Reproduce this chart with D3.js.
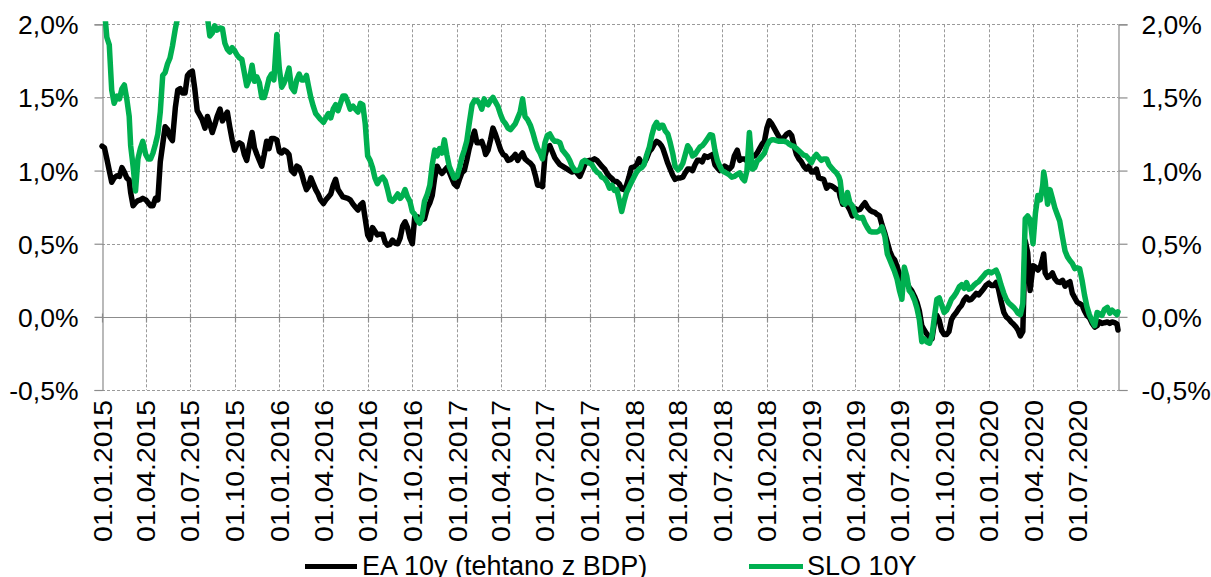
<!DOCTYPE html>
<html><head><meta charset="utf-8">
<script src="https://cdn.jsdelivr.net/npm/d3@7"></script>
<style>
body{margin:0;background:#fff}
svg{display:block}
text{font-family:Arial,"Liberation Sans",sans-serif;fill:#000}
</style>
</head><body>
<svg id="chart" width="1211" height="577"></svg>
<script>
// ---------- DATA ----------
const seriesNames = ["EA 10y (tehtano z BDP)", "SLO 10Y"];
const yTicks = [-0.5, 0, 0.5, 1.0, 1.5, 2.0];
const xTickDates = ["2015-01-01","2015-04-01","2015-07-01","2015-10-01","2016-01-01","2016-04-01","2016-07-01","2016-10-01",
  "2017-01-01","2017-04-01","2017-07-01","2017-10-01","2018-01-01","2018-04-01","2018-07-01","2018-10-01",
  "2019-01-01","2019-04-01","2019-07-01","2019-10-01","2020-01-01","2020-04-01","2020-07-01"];

const dates = [
 "2015-01-01","2015-01-06","2015-01-11","2015-01-16","2015-01-21","2015-01-26",
 "2015-02-01","2015-02-06","2015-02-11","2015-02-16","2015-02-21","2015-02-26",
 "2015-03-01","2015-03-06","2015-03-11","2015-03-16","2015-03-21","2015-03-26",
 "2015-04-01","2015-04-06","2015-04-11","2015-04-16","2015-04-21","2015-04-26",
 "2015-05-01","2015-05-06","2015-05-11","2015-05-16","2015-05-21","2015-05-26",
 "2015-06-01","2015-06-06","2015-06-11","2015-06-16","2015-06-21","2015-06-26",
 "2015-07-01","2015-07-06","2015-07-11","2015-07-16","2015-07-21","2015-07-26",
 "2015-08-01","2015-08-06","2015-08-11","2015-08-16","2015-08-21","2015-08-26",
 "2015-09-01","2015-09-06","2015-09-11","2015-09-16","2015-09-21","2015-09-26",
 "2015-10-01","2015-10-06","2015-10-11","2015-10-16","2015-10-21","2015-10-26",
 "2015-11-01","2015-11-06","2015-11-11","2015-11-16","2015-11-21","2015-11-26",
 "2015-12-01","2015-12-06","2015-12-11","2015-12-16","2015-12-21","2015-12-27",
 "2016-01-01","2016-01-06","2016-01-11","2016-01-16","2016-01-21","2016-01-26",
 "2016-02-01","2016-02-06","2016-02-11","2016-02-16","2016-02-21","2016-02-26",
 "2016-03-01","2016-03-06","2016-03-11","2016-03-16","2016-03-21","2016-03-26",
 "2016-04-01","2016-04-06","2016-04-11","2016-04-16","2016-04-21","2016-04-26",
 "2016-05-01","2016-05-06","2016-05-11","2016-05-16","2016-05-21","2016-05-26",
 "2016-06-01","2016-06-06","2016-06-11","2016-06-16","2016-06-21","2016-06-26",
 "2016-07-01","2016-07-06","2016-07-11","2016-07-16","2016-07-21","2016-07-26",
 "2016-08-01","2016-08-06","2016-08-11","2016-08-16","2016-08-21","2016-08-26",
 "2016-09-01","2016-09-06","2016-09-11","2016-09-16","2016-09-21","2016-09-26",
 "2016-10-01","2016-10-06","2016-10-11","2016-10-16","2016-10-21","2016-10-26",
 "2016-11-01","2016-11-06","2016-11-11","2016-11-16","2016-11-21","2016-11-26",
 "2016-12-01","2016-12-06","2016-12-11","2016-12-16","2016-12-21","2016-12-26",
 "2017-01-01","2017-01-06","2017-01-11","2017-01-16","2017-01-21","2017-01-26",
 "2017-02-01","2017-02-06","2017-02-11","2017-02-16","2017-02-21","2017-02-26",
 "2017-03-01","2017-03-06","2017-03-11","2017-03-16","2017-03-21","2017-03-26",
 "2017-04-01","2017-04-06","2017-04-11","2017-04-16","2017-04-21","2017-04-26",
 "2017-05-01","2017-05-06","2017-05-11","2017-05-16","2017-05-21","2017-05-26",
 "2017-06-01","2017-06-06","2017-06-11","2017-06-16","2017-06-21","2017-06-26",
 "2017-07-01","2017-07-06","2017-07-11","2017-07-16","2017-07-21","2017-07-26",
 "2017-08-01","2017-08-06","2017-08-11","2017-08-16","2017-08-21","2017-08-26",
 "2017-09-01","2017-09-06","2017-09-11","2017-09-16","2017-09-21","2017-09-26",
 "2017-10-01","2017-10-06","2017-10-11","2017-10-16","2017-10-21","2017-10-26",
 "2017-11-01","2017-11-06","2017-11-11","2017-11-16","2017-11-21","2017-11-26",
 "2017-12-01","2017-12-06","2017-12-11","2017-12-16","2017-12-21","2017-12-26",
 "2018-01-01","2018-01-06","2018-01-11","2018-01-16","2018-01-21","2018-01-26",
 "2018-02-01","2018-02-06","2018-02-11","2018-02-16","2018-02-21","2018-02-26",
 "2018-03-01","2018-03-06","2018-03-11","2018-03-16","2018-03-21","2018-03-26",
 "2018-04-01","2018-04-06","2018-04-11","2018-04-16","2018-04-21","2018-04-26",
 "2018-05-01","2018-05-06","2018-05-11","2018-05-16","2018-05-21","2018-05-26",
 "2018-06-01","2018-06-06","2018-06-11","2018-06-16","2018-06-21","2018-06-26",
 "2018-07-01","2018-07-06","2018-07-11","2018-07-16","2018-07-21","2018-07-26",
 "2018-08-01","2018-08-06","2018-08-11","2018-08-16","2018-08-21","2018-08-26",
 "2018-09-01","2018-09-06","2018-09-11","2018-09-16","2018-09-21","2018-09-26",
 "2018-10-01","2018-10-06","2018-10-11","2018-10-16","2018-10-21","2018-10-26",
 "2018-11-01","2018-11-06","2018-11-11","2018-11-16","2018-11-21","2018-11-26",
 "2018-12-01","2018-12-06","2018-12-11","2018-12-16","2018-12-21","2018-12-26",
 "2019-01-01","2019-01-06","2019-01-11","2019-01-16","2019-01-21","2019-01-26",
 "2019-02-01","2019-02-06","2019-02-11","2019-02-16","2019-02-21","2019-02-26",
 "2019-03-01","2019-03-06","2019-03-11","2019-03-16","2019-03-21","2019-03-26",
 "2019-04-01","2019-04-06","2019-04-11","2019-04-16","2019-04-21","2019-04-26",
 "2019-05-01","2019-05-06","2019-05-11","2019-05-16","2019-05-21","2019-05-26",
 "2019-06-01","2019-06-06","2019-06-11","2019-06-16","2019-06-21","2019-06-26",
 "2019-07-01","2019-07-06","2019-07-11","2019-07-16","2019-07-21","2019-07-26",
 "2019-08-01","2019-08-06","2019-08-11","2019-08-16","2019-08-21","2019-08-26",
 "2019-09-01","2019-09-06","2019-09-11","2019-09-16","2019-09-21","2019-09-26",
 "2019-10-01","2019-10-06","2019-10-11","2019-10-16","2019-10-21","2019-10-26",
 "2019-11-01","2019-11-06","2019-11-11","2019-11-16","2019-11-21","2019-11-26",
 "2019-12-01","2019-12-06","2019-12-11","2019-12-16","2019-12-21","2019-12-26",
 "2020-01-01","2020-01-06","2020-01-11","2020-01-16","2020-01-21","2020-01-26",
 "2020-02-01","2020-02-06","2020-02-11","2020-02-16","2020-02-21","2020-02-26",
 "2020-03-01","2020-03-06","2020-03-11","2020-03-16","2020-03-21","2020-03-26",
 "2020-04-01","2020-04-06","2020-04-11","2020-04-16","2020-04-21","2020-04-23","2020-04-26",
 "2020-05-01","2020-05-06","2020-05-11","2020-05-16","2020-05-21","2020-05-26",
 "2020-06-01","2020-06-06","2020-06-11","2020-06-16","2020-06-21","2020-06-26",
 "2020-07-01","2020-07-06","2020-07-11","2020-07-16","2020-07-21","2020-07-26",
 "2020-08-01","2020-08-06","2020-08-11","2020-08-16","2020-08-21","2020-08-26",
 "2020-09-01","2020-09-06","2020-09-11","2020-09-16","2020-09-21","2020-09-23"
];

const ea10y = [
 1.167,1.156,1.08,1.00,0.92,0.95,
 0.965,0.96,1.02,0.99,0.95,0.935,
 0.85,0.76,0.78,0.795,0.80,0.81,
 0.80,0.78,0.76,0.76,0.81,0.80,
 1.06,1.18,1.30,1.28,1.23,1.205,
 1.43,1.55,1.56,1.53,1.53,1.65,
 1.67,1.68,1.56,1.41,1.38,1.35,
 1.29,1.37,1.32,1.26,1.31,1.37,
 1.42,1.34,1.37,1.40,1.30,1.21,
 1.14,1.18,1.19,1.18,1.11,1.07,
 1.18,1.26,1.155,1.11,1.07,1.03,
 1.11,1.20,1.15,1.22,1.22,1.21,
 1.13,1.12,1.14,1.13,1.11,1.00,
 0.98,1.03,1.02,0.98,0.92,0.87,
 0.89,0.95,0.91,0.87,0.84,0.80,
 0.775,0.80,0.82,0.84,0.90,0.94,
 0.87,0.845,0.82,0.815,0.81,0.80,
 0.77,0.75,0.73,0.765,0.78,0.67,
 0.56,0.53,0.61,0.585,0.56,0.565,
 0.565,0.51,0.49,0.495,0.525,0.505,
 0.50,0.54,0.62,0.65,0.61,0.54,
 0.50,0.685,0.685,0.675,0.665,0.67,
 0.745,0.78,0.83,0.95,1.03,1.00,
 0.98,1.00,1.02,0.99,0.95,0.91,
 0.89,0.94,0.985,1.00,1.07,1.15,
 1.22,1.27,1.19,1.19,1.20,1.15,
 1.11,1.14,1.21,1.29,1.25,1.20,
 1.14,1.11,1.10,1.07,1.075,1.09,
 1.11,1.07,1.10,1.12,1.08,1.065,
 1.05,1.03,0.97,0.90,0.90,0.89,
 1.10,1.16,1.17,1.13,1.09,1.065,
 1.04,1.03,1.02,1.01,1.00,0.99,
 1.00,0.98,0.96,1.00,1.04,1.065,
 1.07,1.07,1.08,1.07,1.05,1.03,
 1.01,0.98,0.96,0.945,0.925,0.925,
 0.91,0.875,0.87,0.90,0.955,1.02,
 1.025,1.04,1.08,1.05,1.05,1.08,
 1.13,1.15,1.18,1.20,1.19,1.17,
 1.15,1.10,1.05,1.01,0.97,0.94,
 0.95,0.95,0.955,0.985,1.01,1.01,
 1.00,1.04,1.07,1.07,1.06,1.10,
 1.09,1.10,1.11,1.04,1.02,1.00,
 1.01,1.03,1.02,1.01,1.03,1.10,
 1.14,1.07,1.08,1.08,1.065,1.09,
 1.10,1.10,1.12,1.15,1.18,1.20,
 1.29,1.34,1.32,1.29,1.26,1.23,
 1.21,1.23,1.25,1.26,1.24,1.17,
 1.11,1.08,1.06,1.03,1.01,1.03,
 0.99,0.99,1.01,0.95,0.945,0.94,
 0.88,0.90,0.895,0.885,0.87,0.87,
 0.82,0.77,0.78,0.76,0.73,0.69,
 0.74,0.73,0.735,0.76,0.78,0.75,
 0.73,0.72,0.715,0.70,0.69,0.63,
 0.57,0.51,0.45,0.41,0.39,0.345,
 0.29,0.24,0.26,0.24,0.20,0.18,
 0.14,0.10,0.04,-0.06,-0.09,-0.115,
 -0.14,-0.15,-0.04,0.01,-0.025,-0.095,
 -0.12,-0.12,-0.10,-0.02,0.01,0.03,
 0.06,0.08,0.115,0.135,0.115,0.12,
 0.14,0.16,0.15,0.17,0.19,0.215,
 0.23,0.215,0.215,0.235,0.19,0.11,
 0.03,0.00,-0.015,-0.035,-0.05,-0.07,
 -0.09,-0.13,-0.10,0.52,0.44,0.18,
 0.35,0.34,0.32,0.34,0.40,0.43,0.30,
 0.27,0.28,0.30,0.26,0.24,0.235,
 0.25,0.21,0.23,0.24,0.16,0.13,
 0.10,0.09,0.08,0.04,0.01,-0.005,
 -0.045,-0.07,-0.06,-0.035,-0.045,-0.04,
 -0.035,-0.045,-0.035,-0.04,-0.05,-0.09
];

const slo10y = [
 2.25,2.10,1.91,1.86,1.55,1.46,
 1.51,1.49,1.56,1.585,1.49,1.37,
 1.17,1.03,0.86,1.08,1.15,1.20,
 1.11,1.08,1.08,1.12,1.18,1.25,
 1.40,1.65,1.67,1.73,1.77,1.85,
 1.97,2.05,2.20,2.30,2.40,2.45,
 2.50,2.50,2.45,2.40,2.35,2.30,
 2.15,2.05,1.92,1.94,1.99,1.96,
 1.975,1.97,1.87,1.83,1.81,1.84,
 1.82,1.79,1.77,1.76,1.67,1.58,
 1.63,1.72,1.61,1.64,1.60,1.50,
 1.50,1.56,1.63,1.66,1.62,1.93,
 1.70,1.57,1.60,1.64,1.70,1.57,
 1.54,1.62,1.66,1.62,1.62,1.65,
 1.58,1.50,1.44,1.39,1.37,1.35,
 1.33,1.36,1.39,1.36,1.42,1.45,
 1.41,1.46,1.51,1.51,1.47,1.42,
 1.44,1.42,1.40,1.46,1.45,1.32,
 1.10,1.07,1.02,0.95,0.91,0.94,
 0.955,0.93,0.87,0.80,0.79,0.81,
 0.84,0.81,0.83,0.87,0.82,0.79,
 0.72,0.70,0.66,0.64,0.68,0.79,
 0.84,0.90,1.04,1.14,1.10,1.15,
 1.12,1.21,1.11,1.03,0.99,0.95,
 0.96,1.02,1.09,1.14,1.20,1.32,
 1.45,1.48,1.48,1.46,1.42,1.49,
 1.46,1.45,1.48,1.50,1.47,1.44,
 1.38,1.34,1.32,1.29,1.28,1.30,
 1.32,1.36,1.40,1.49,1.37,1.35,
 1.31,1.26,1.20,1.15,1.12,1.08,
 1.19,1.24,1.25,1.22,1.20,1.20,
 1.19,1.14,1.12,1.10,1.07,1.03,
 1.00,1.00,1.01,1.06,1.07,1.06,
 1.05,1.04,1.01,0.99,0.98,0.955,
 0.945,0.92,0.88,0.90,0.865,0.87,
 0.80,0.72,0.79,0.85,0.885,0.92,
 0.96,0.99,1.01,1.02,1.04,1.10,
 1.16,1.24,1.30,1.33,1.29,1.31,
 1.31,1.27,1.25,1.19,1.12,1.03,
 1.005,1.02,1.05,1.11,1.17,1.145,
 1.10,1.11,1.135,1.16,1.17,1.19,
 1.22,1.245,1.24,1.14,1.07,1.03,
 1.00,0.99,0.98,0.97,0.955,0.96,
 0.975,0.985,0.95,0.93,1.00,1.26,
 1.01,1.02,1.065,1.08,1.10,1.12,
 1.17,1.20,1.21,1.21,1.205,1.20,
 1.20,1.20,1.195,1.18,1.17,1.165,
 1.15,1.135,1.12,1.105,1.10,1.08,
 1.055,1.09,1.11,1.09,1.07,1.08,
 1.08,1.04,1.02,1.00,0.985,0.96,
 0.93,0.785,0.77,0.85,0.78,0.76,
 0.70,0.68,0.675,0.68,0.64,0.61,
 0.585,0.58,0.58,0.58,0.59,0.615,
 0.55,0.43,0.39,0.35,0.31,0.26,
 0.18,0.12,0.34,0.28,0.18,0.16,
 0.115,0.06,-0.02,-0.17,-0.15,-0.17,
 -0.18,-0.13,0.00,0.12,0.13,0.08,
 0.03,0.045,0.08,0.12,0.14,0.165,
 0.205,0.22,0.195,0.235,0.19,0.195,
 0.215,0.23,0.24,0.26,0.28,0.30,
 0.31,0.30,0.31,0.32,0.28,0.22,
 0.16,0.12,0.095,0.08,0.065,0.045,
 0.025,0.015,0.09,0.67,0.69,0.665,
 0.50,0.71,0.83,0.80,0.90,0.99,0.93,
 0.77,0.87,0.81,0.745,0.70,0.655,
 0.54,0.45,0.41,0.385,0.365,0.33,
 0.335,0.33,0.25,0.15,0.07,0.015,
 -0.03,-0.06,0.03,0.02,0.01,0.05,
 0.065,0.025,0.045,0.03,0.015,0.035
];

const seriesColors = ["#000000", "#00B050"];

// ---------- CHART ----------
const plot = {left: 102, right: 1118, top: 24.3, bottom: 390};
const parse = d3.timeParse("%Y-%m-%d");
const svg = d3.select("#chart");

const x = d3.scaleTime()
  .domain([parse(dates[0]), parse(dates[dates.length - 1])])
  .range([plot.left, plot.right]);
const y = d3.scaleLinear().domain([-0.5, 2.0]).range([plot.bottom, plot.top]);

const loc = d3.formatLocale({decimal: ",", thousands: ".", grouping: [3], currency: ["", "€"], minus: "-"});
const fmtY = v => loc.format(".1f")(v) + "%";
const fmtX = d3.timeFormat("%d.%m.%Y");

const gridColor = "#9a9a9a";
const axisColor = "#8c8c8c";

// horizontal gridlines
svg.append("g").selectAll("line")
  .data(yTicks.filter(v => v !== 0))
  .join("line")
  .attr("x1", plot.left).attr("x2", plot.right)
  .attr("y1", d => Math.round(y(d)) + 0.5).attr("y2", d => Math.round(y(d)) + 0.5)
  .attr("stroke", gridColor).attr("stroke-width", 1).attr("stroke-dasharray", "3,2");

// vertical gridlines
svg.append("g").selectAll("line")
  .data(xTickDates.slice(1))
  .join("line")
  .attr("x1", d => Math.round(x(parse(d))) + 0.5).attr("x2", d => Math.round(x(parse(d))) + 0.5)
  .attr("y1", plot.top).attr("y2", plot.bottom)
  .attr("stroke", gridColor).attr("stroke-width", 1).attr("stroke-dasharray", "3,2");

// zero axis line
const y0 = Math.round(y(0)) + 0.5;
svg.append("line").attr("x1", plot.left).attr("x2", plot.right)
  .attr("y1", y0).attr("y2", y0).attr("stroke", axisColor).attr("stroke-width", 1.2);
// x tick marks on the zero line
svg.append("g").selectAll("line")
  .data(xTickDates)
  .join("line")
  .attr("x1", d => Math.round(x(parse(d))) + 0.5).attr("x2", d => Math.round(x(parse(d))) + 0.5)
  .attr("y1", y0 - 4).attr("y2", y0 + 5)
  .attr("stroke", axisColor).attr("stroke-width", 1.2);

// left & right y axes
const leftAxis = d3.axisLeft(y).tickValues(yTicks).tickFormat(fmtY).tickSize(8).tickPadding(16);
const rightAxis = d3.axisRight(y).tickValues(yTicks).tickFormat(fmtY).tickSize(9).tickPadding(14);
const gL = svg.append("g").attr("transform", `translate(${plot.left + 0.5},0)`).call(leftAxis);
const gR = svg.append("g").attr("transform", `translate(${plot.right + 0.5},0)`).call(rightAxis);
[gL, gR].forEach(g => {
  g.select(".domain").attr("stroke", axisColor).attr("stroke-width", 1.2);
  g.selectAll(".tick line").attr("stroke", axisColor).attr("stroke-width", 1.2);
  g.selectAll(".tick text").attr("font-size", 26.5).attr("font-family", "Arial, 'Liberation Sans', sans-serif")
    .attr("fill", "#000").attr("dy", "0.36em");
});

// x tick labels (rotated)
svg.append("g").selectAll("text")
  .data(xTickDates)
  .join("text")
  .attr("transform", d => `translate(${x(parse(d)) + 9.5},${plot.bottom + 10}) rotate(-90) scale(1.07,1)`)
  .attr("text-anchor", "end")
  .attr("font-size", 26.5)
  .text(d => fmtX(parse(d)));

// clip
svg.append("defs").append("clipPath").attr("id", "clip")
  .append("rect").attr("x", plot.left - 3).attr("y", plot.top - 3)
  .attr("width", plot.right - plot.left + 6).attr("height", plot.bottom - plot.top + 6);

const series = [ea10y, slo10y];
const line = d3.line()
  .x((d, i) => x(parse(dates[i])))
  .y(d => y(d))
  .curve(d3.curveLinear);

const gLines = svg.append("g").attr("clip-path", "url(#clip)");
series.forEach((s, k) => {
  gLines.append("path")
    .datum(s)
    .attr("d", line)
    .attr("fill", "none")
    .attr("stroke", seriesColors[k])
    .attr("stroke-width", 5.5)
    .attr("stroke-linejoin", "round")
    .attr("stroke-linecap", "round");
});

// legend
const legendItems = [
  {x1: 305, x2: 357, tx: 362},
  {x1: 749, x2: 803, tx: 807}
];
const leg = svg.append("g");
legendItems.forEach((it, k) => {
  leg.append("line").attr("x1", it.x1).attr("x2", it.x2).attr("y1", 566.5).attr("y2", 566.5)
    .attr("stroke", seriesColors[k]).attr("stroke-width", 5);
  leg.append("text").attr("x", it.tx).attr("y", 575).attr("font-size", 27).text(seriesNames[k]);
});
</script>
</body></html>
